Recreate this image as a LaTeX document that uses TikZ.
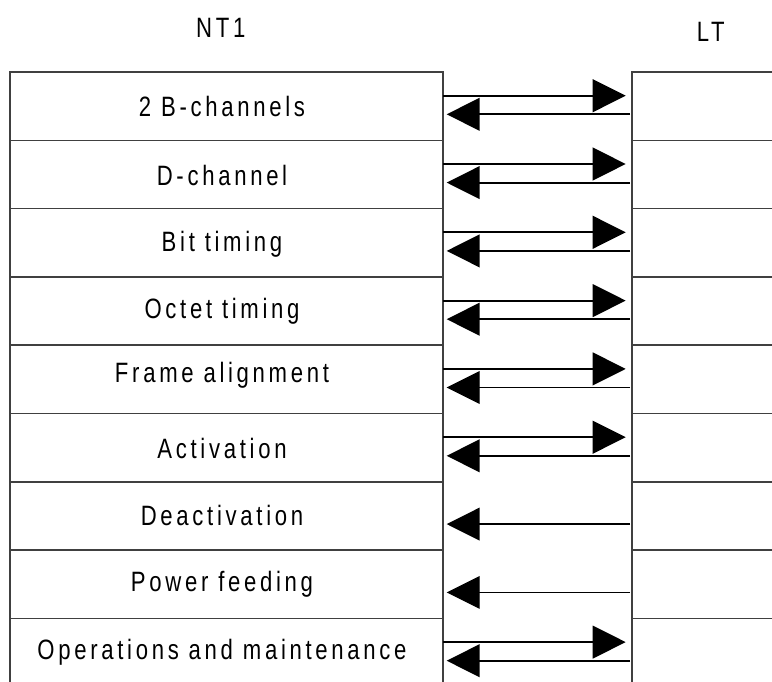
\documentclass[tikz,border=0pt]{standalone}
\usepackage{fontspec}
\setmainfont{Liberation Sans}[FakeStretch=0.79,LetterSpace=13.2]
\usetikzlibrary{arrows.meta}
\definecolor{boxline}{HTML}{404040}
\tikzset{
  lbox/.style={draw=boxline, line width=1.6pt, rectangle, minimum width=433pt, minimum height=68.3pt, inner sep=0pt, outer sep=0pt},
  rbox/.style={draw=boxline, line width=1.6pt, rectangle, minimum width=268pt, minimum height=68.3pt, inner sep=0pt, outer sep=0pt},
  lbl/.style={anchor=base, inner sep=0pt, font=\fontsize{28pt}{32pt}\selectfont},
  arr/.style={line width=2pt, -{Triangle[length=33pt,width=32.7pt]}},
  thinarr/.style={line width=1.2pt, -{Triangle[length=33pt,width=32.7pt]}}
}
\begin{document}
\begin{tikzpicture}[x=1pt,y=-1pt]
\useasboundingbox (0,0) rectangle (772,681);
\clip (0,0) rectangle (772,681);
\node[lbl] (nt) at (220.8,37) {NT1};
\node[lbl] (lt) at (710.8,41.5) {LT};
\foreach \i in {1,...,9}{
  \node[lbox] (l\i) at (226.5,{72+68.3*(\i-0.5)}) {};
  \node[rbox] (r\i) at (766,{72+68.3*(\i-0.5)}) {};
}
\foreach \i/\b/\t in {1/116.7/{2 B-channels},2/185/{D-channel},3/251.7/{Bit timing},4/318.3/{Octet timing},5/382.3/{Frame alignment},6/458/{Activation},7/525/{Deactivation},8/591/{Power feeding},9/659/{Operations and maintenance}}{
  \node[lbl] (t\i) at (222,\b) {\t};
}
\foreach \i in {1,2,3,4,5,6,9}{
  \draw[arr] ([yshift=-23.7pt]l\i.north east) -- ([yshift=-23.7pt,xshift=-6.3pt]r\i.north west);
}
\foreach \i in {1,2,3,4,6,7,9}{
  \draw[arr] ([yshift=-42.3pt,xshift=-2pt]r\i.north west) -- ([yshift=-42.3pt,xshift=3.7pt]l\i.north east);
}
\foreach \i in {5,8}{
  \draw[thinarr] ([yshift=-42.3pt,xshift=-2pt]r\i.north west) -- ([yshift=-42.3pt,xshift=3.7pt]l\i.north east);
}
\end{tikzpicture}
\end{document}
